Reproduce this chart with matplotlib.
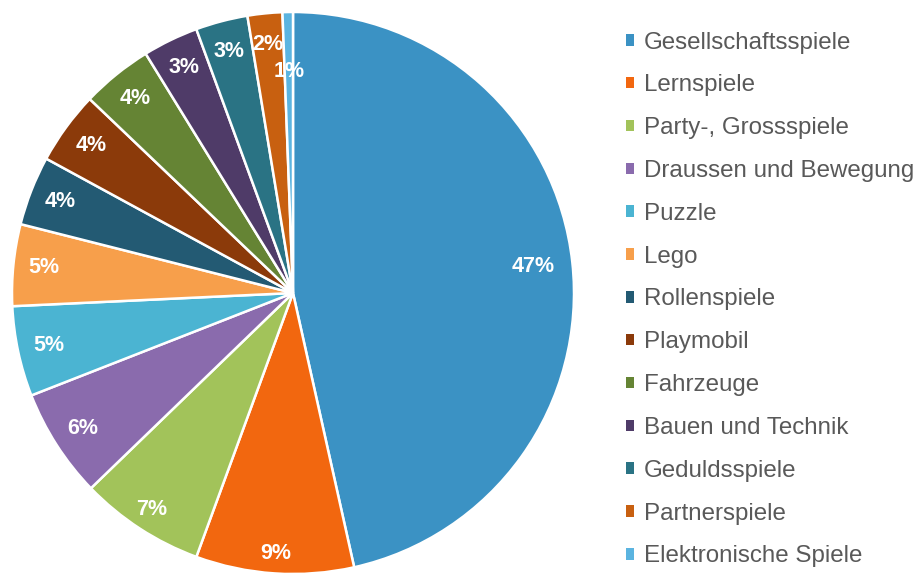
import numpy as np
import matplotlib
matplotlib.use('Agg')
import matplotlib.pyplot as plt

plt.rcParams['font.family'] = ['Liberation Sans', 'DejaVu Sans']

# Data
categories = ['Gesellschaftsspiele', 'Lernspiele', 'Party-, Grossspiele',
              'Draussen und Bewegung', 'Puzzle', 'Lego', 'Rollenspiele',
              'Playmobil', 'Fahrzeuge', 'Bauen und Technik', 'Geduldsspiele',
              'Partnerspiele', 'Elektronische Spiele']
shares = [46.6, 9.1, 7.2, 6.3, 5.2, 4.7, 4.0, 4.2, 4.1, 3.2, 3.0, 2.0, 0.6]
colors = ['#3B92C4', '#F2670F', '#A2C35A', '#8A6BAD', '#4BB4D2', '#F79F4B',
          '#235A73', '#8B3A0A', '#658434', '#4F3B68', '#2A7384', '#C86010',
          '#5BB4E0']

W, H = 920, 573
fig = plt.figure(figsize=(W / 100, H / 100), dpi=100)

cx, cy, r = 293, 293, 281
lim = 1.02
side = 2 * r * lim
ax = fig.add_axes([(cx - side / 2) / W, 1 - (cy + side / 2) / H, side / W, side / H])

wedges, texts, autotexts = ax.pie(
    shares, colors=colors, startangle=90, counterclock=False,
    autopct=lambda p: '%d%%' % int(p + 0.5), pctdistance=0.89,
    wedgeprops=dict(edgecolor='white', linewidth=1.8),
    textprops=dict(color='white', fontsize=15.5, fontweight='bold'))
ax.set_xlim(-lim, lim)
ax.set_ylim(-lim, lim)
ax.set_aspect('equal')

# excel's "best fit" puts some labels a bit in or out
for i, d in [(0, 0.86), (1, 0.93), (2, 0.92), (12, 0.79)]:
    w = wedges[i]
    ang = np.deg2rad((w.theta1 + w.theta2) / 2)
    autotexts[i].set_position((d * np.cos(ang), d * np.sin(ang)))

leg = fig.legend(wedges, categories, loc='center left',
                 bbox_to_anchor=(626 / W, 1 - 299.5 / H), frameon=False,
                 fontsize=17.4, handlelength=0.35, handleheight=0.35,
                 handletextpad=0.38, labelspacing=0.862, borderpad=0,
                 borderaxespad=0)
for t in leg.get_texts():
    t.set_color('#595959')
for h in leg.legend_handles:
    h.set_edgecolor('none')

fig.savefig('out.png', dpi=100)
